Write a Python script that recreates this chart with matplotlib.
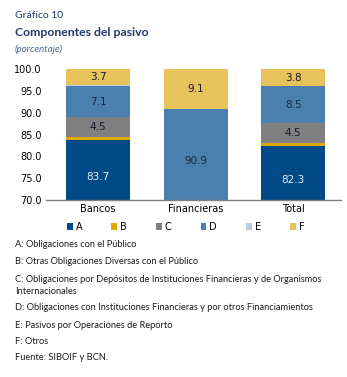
import matplotlib
matplotlib.use("Agg")
import matplotlib.pyplot as plt
import numpy as np

categories = ["Bancos", "Financieras", "Total"]
series_names = ["A", "B", "C", "D", "E", "F"]
A = [83.7, 0.0, 82.3]
B = [0.8, 0.0, 0.8]
C = [4.5, 0.0, 4.5]
D = [7.1, 90.9, 8.5]
E = [0.2, 0.0, 0.1]
F = [3.7, 9.1, 3.8]
yticks = [70.0, 75.0, 80.0, 85.0, 90.0, 95.0, 100.0]

colors = ["#004A87", "#E0A800", "#808080", "#4A80AE", "#B7CDE3", "#E8C25A"]
label_colors = ["#E8EEF6", None, "#1A1A2E", "#1A2A44", None, "#1A1A2E"]

fig = plt.figure(figsize=(3.47, 3.77), dpi=100)
ax = fig.add_axes([46/347, 1-200/377, (341-46)/347, (200-69.3)/377])

x = np.arange(len(categories))
width = 0.66
bottom = np.zeros(len(categories))
series = [A, B, C, D, E, F]
handles = []
for name, vals, col, lc in zip(series_names, series, colors, label_colors):
    vals = np.array(vals)
    bars = ax.bar(x, vals, width, bottom=bottom, color=col, label=name, linewidth=0)
    handles.append(bars)
    if lc is not None:
        for xi, v, b in zip(x, vals, bottom):
            if v >= 3:
                ymid = b + v / 2
                if b < 70:
                    ymid = (70 + b + v) / 2 - 1.5
                ax.text(xi, ymid, f"{v:.1f}", ha="center", va="center",
                        fontsize=7.5, color=lc, family="DejaVu Sans")
    bottom += vals

ax.set_ylim(70, 100)
ax.set_xlim(-0.535, 2.49)
ax.set_yticks(yticks)
ax.set_yticklabels([f"{t:.1f}" for t in yticks], fontsize=7, family="DejaVu Sans")
ax.set_xticks(x)
ax.set_xticklabels(categories, fontsize=7, family="DejaVu Sans")
ax.tick_params(axis="both", length=0, pad=3)
for s in ["top", "right", "left"]:
    ax.spines[s].set_visible(False)
ax.spines["bottom"].set_color("#808080")
ax.spines["bottom"].set_linewidth(1.0)

fig.legend(handles=handles, labels=series_names, loc="center", ncol=6,
           bbox_to_anchor=(0.535, 1-227/377), frameon=False,
           prop={"family": "DejaVu Sans", "size": 7},
           handlelength=0.6, handleheight=0.6, handletextpad=0.3, columnspacing=3.0)

tfont = "Lato"
fig.text(15/347, 1-15/377, "Gráfico 10", fontsize=7.5, color="#1F3A6E", family=tfont, va="center")
fig.text(15/347, 1-32/377, "Componentes del pasivo", fontsize=8.8, color="#1F3A6E",
         family=tfont, weight="bold", va="center")
fig.text(15/347, 1-49/377, "(porcentaje)", fontsize=7, color="#4A6A9A",
         family=tfont, style="italic", va="center")

notes = [
    (244, "A: Obligaciones con el Público"),
    (262, "B: Otras Obligaciones Diversas con el Público"),
    (279, "C: Obligaciones por Depósitos de Instituciones Financieras y de Organismos"),
    (291, "Internacionales"),
    (308, "D: Obligaciones con Instituciones Financieras y por otros Financiamientos"),
    (325, "E: Pasivos por Operaciones de Reporto"),
    (342, "F: Otros"),
    (357, "Fuente: SIBOIF y BCN."),
]
for yp, t in notes:
    fig.text(15/347, 1-yp/377, t, fontsize=6.7, color="#1A1A1A", family=tfont, va="center")

fig.savefig("out.png", dpi=100)
